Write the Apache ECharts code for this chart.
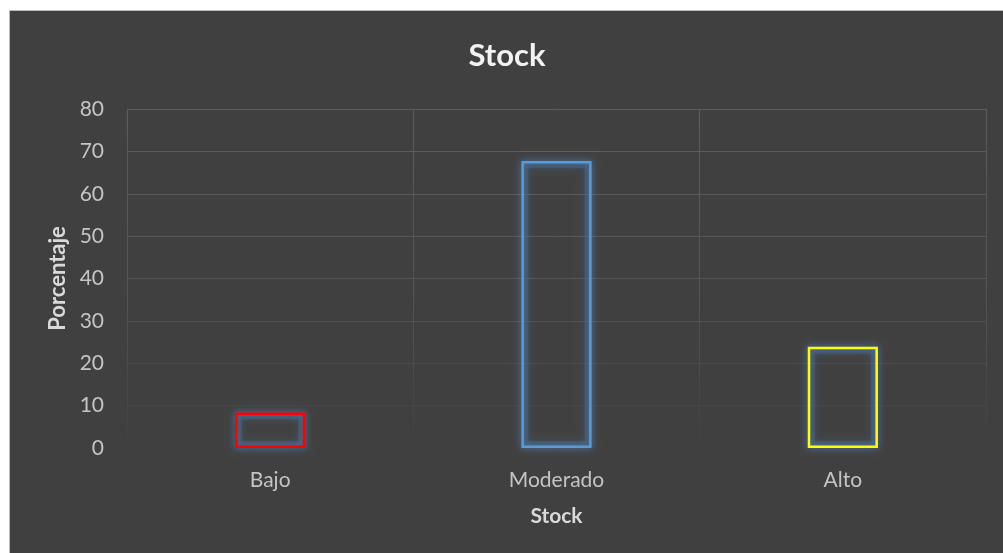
<!DOCTYPE html>
<html>
<head>
<meta charset="utf-8">
<script src="https://cdn.jsdelivr.net/npm/echarts@6/dist/echarts.min.js"></script>
<style>
html,body{margin:0;padding:0;background:#ffffff;}
#frame{position:absolute;left:9px;top:10px;width:994px;height:543px;border-left:1px solid #bdbdbd;border-top:1px solid #bdbdbd;background:#404040;}
#chart{position:absolute;left:0;top:0;width:994px;height:543px;}
</style>
</head>
<body>
<div id="frame"><div id="chart"></div></div>
<script>
const categories = ['Bajo', 'Moderado', 'Alto'];
const values = [8.4, 67.7, 23.9];
const barColors = ['#ff0000', '#5b9bd5', '#ffff00'];
const yTicks = [0, 10, 20, 30, 40, 50, 60, 70, 80];

const chart = echarts.init(document.getElementById('chart'), null, {renderer: 'canvas'});
const fontFam = 'Lato, "Open Sans", sans-serif';
const gridGrad = {type: 'linear', x: 0, y: 90, x2: 0, y2: 440, global: true,
  colorStops: [{offset: 0, color: '#5e5e5e'}, {offset: 0.55, color: '#545454'}, {offset: 1, color: '#404040'}]};

chart.setOption({
  animation: false,
  backgroundColor: '#404040',
  title: {
    text: 'Stock', left: 'center', top: 24,
    textStyle: {color: '#f2f2f2', fontSize: 31, fontWeight: 'bold', fontFamily: fontFam}
  },
  grid: {left: 117, right: 18, top: 98, bottom: 106, containLabel: false},
  xAxis: {
    type: 'category', data: categories,
    name: 'Stock', nameLocation: 'middle', nameGap: 58,
    nameTextStyle: {color: '#d9d9d9', fontSize: 21, fontWeight: 'bold', fontFamily: fontFam},
    axisLine: {show: false}, axisTick: {show: false},
    axisLabel: {color: '#c4c4c4', fontSize: 21, margin: 22, fontFamily: fontFam},
    splitLine: {show: true, lineStyle: {color: gridGrad, width: 1}}
  },
  yAxis: {
    type: 'value', min: 0, max: 80, interval: 10,
    name: 'Porcentaje', nameLocation: 'middle', nameGap: 56, nameRotate: 90,
    nameTextStyle: {color: '#d9d9d9', fontSize: 22, fontWeight: 'bold', fontFamily: fontFam},
    axisLine: {show: false}, axisTick: {show: false},
    axisLabel: {color: '#c4c4c4', fontSize: 21, margin: 23, fontFamily: fontFam,
      formatter: v => yTicks.includes(v) ? String(v) : ''},
    splitLine: {show: true, lineStyle: {color: gridGrad, width: 1}}
  },
  series: [{
    type: 'bar', barWidth: '24.5%', silent: true,
    data: values.map(v => ({
      value: v,
      itemStyle: {
        color: 'rgba(0,0,0,0)', borderColor: 'rgba(79,129,189,0.22)', borderWidth: 7,
        shadowBlur: 10, shadowColor: 'rgba(79,129,189,0.9)'
      }
    }))
  }, {
    type: 'bar', barWidth: '24.5%', barGap: '-100%',
    data: values.map((v, i) => ({
      value: v,
      itemStyle: {
        color: 'rgba(0,0,0,0)', borderColor: barColors[i], borderWidth: 2.5,
        shadowBlur: 6, shadowColor: 'rgba(79,140,210,0.8)'
      }
    }))
  }]
});
</script>
</body>
</html>
